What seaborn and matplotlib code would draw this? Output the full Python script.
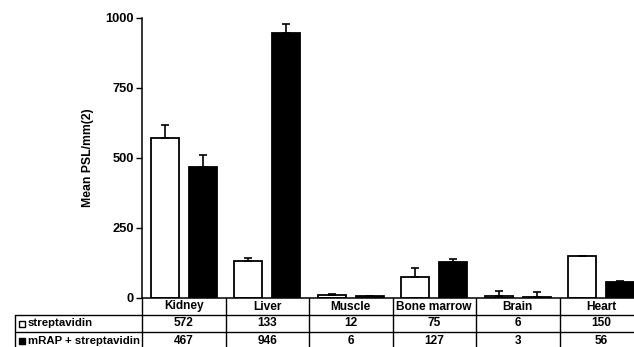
import matplotlib
matplotlib.use("Agg")
import matplotlib.pyplot as plt
import matplotlib.patches as mpatches
import matplotlib.transforms as mtransforms
import seaborn as sns
import pandas as pd

organs = ["Kidney", "Liver", "Muscle", "Bone marrow", "Brain", "Heart"]
groups = ["streptavidin", "mRAP + streptavidin"]
strep_vals = [572, 133, 12, 75, 6, 150]
mrap_vals = [467, 946, 6, 127, 3, 56]
strep_err = [46, 9, 3, 33, 19, 1]
mrap_err = [44, 32, 2, 13, 17, 3]
group_colors = ["white", "black"]
y_ticks = [0, 250, 500, 750, 1000]

sns.set_style("white")
plt.rcParams["font.family"] = ["Liberation Sans", "DejaVu Sans"]
plt.rcParams["font.weight"] = "bold"
for key in ["text.color", "axes.labelcolor", "xtick.color", "ytick.color",
            "axes.edgecolor"]:
    plt.rcParams[key] = "black"

df = pd.DataFrame({
    "organ": organs * 2,
    "group": [groups[0]] * len(organs) + [groups[1]] * len(organs),
    "psl": strep_vals + mrap_vals,
})

W, H = 634, 347
fig = plt.figure(figsize=(W / 100, H / 100), dpi=100)
ax = fig.add_axes([142 / W, 1 - 298 / H, 501 / W, 280 / H])

sns.barplot(data=df, x="organ", y="psl", hue="group", order=organs,
            hue_order=groups, palette=group_colors, edgecolor="black",
            linewidth=1.3, width=0.91, gap=0.26, errorbar=None,
            legend=False, ax=ax)

# one-sided (upper) error bars centred on each bar
for cont, vals, errs in zip(ax.containers, [strep_vals, mrap_vals],
                            [strep_err, mrap_err]):
    xs = [p.get_x() + p.get_width() / 2 for p in cont.patches]
    ax.errorbar(xs, vals, yerr=[[0] * len(errs), errs], fmt="none",
                ecolor="black", elinewidth=1.2, capsize=3, capthick=1.2,
                zorder=1)

ax.set_xlim(-0.5, len(organs) - 0.5)
ax.set_ylim(0, 1000)
ax.set_yticks(y_ticks)
ax.set_yticklabels([str(t) for t in y_ticks], fontsize=9.3, fontweight="bold")
ax.set_xticks([])
ax.set_xlabel("")
ax.set_ylabel("Mean PSL/mm(2)", fontsize=8.8, fontweight="bold")
ax.yaxis.set_label_coords(-0.095, 0.5)
ax.tick_params(axis="y", direction="out", length=4, width=1, left=True, pad=2)
for side in ["top", "right"]:
    ax.spines[side].set_visible(False)
for side in ["left", "bottom"]:
    ax.spines[side].set_linewidth(1.1)

# data table beneath the axis
row_h = 17 / 280
trans = mtransforms.blended_transform_factory(ax.transData, ax.transAxes)
lw = 1.0
bottom = -0.25
for b in [i - 0.5 for i in range(len(organs) + 1)]:
    ax.plot([b, b], [0, bottom], transform=trans, color="black", lw=lw,
            clip_on=False)
label_left = (15 - 142) / 501
for k in (1, 2):
    ax.plot([label_left, 1.05], [-k * row_h, -k * row_h],
            transform=ax.transAxes, color="black", lw=lw, clip_on=False)
ax.plot([label_left, label_left], [-row_h, bottom], transform=ax.transAxes,
        color="black", lw=lw, clip_on=False)

for i, name in enumerate(organs):
    ax.text(i, -0.5 * row_h, name, transform=trans, ha="center",
            va="center", fontsize=8.6, fontweight="bold")
    ax.text(i, -1.5 * row_h, str(strep_vals[i]), transform=trans,
            ha="center", va="center", fontsize=8.6, fontweight="bold")
    ax.text(i, -2.5 * row_h, str(mrap_vals[i]), transform=trans,
            ha="center", va="center", fontsize=8.6, fontweight="bold")

# row headers with a small swatch for each group
for k, (lab, col) in enumerate(zip(groups, group_colors)):
    y = -(k + 1.5) * row_h
    ax.text((28 - 142) / 501, y, lab, transform=ax.transAxes, ha="left",
            va="center", fontsize=8.2, fontweight="bold")
    y_top_px = 298 + (k + 1) * 17 + 6
    fig.patches.append(mpatches.Rectangle(
        (19 / W, 1 - (y_top_px + 6) / H), 6 / W, 6 / H,
        transform=fig.transFigure, facecolor=col, edgecolor="black", lw=1.0))

fig.savefig("out.png", dpi=100)
